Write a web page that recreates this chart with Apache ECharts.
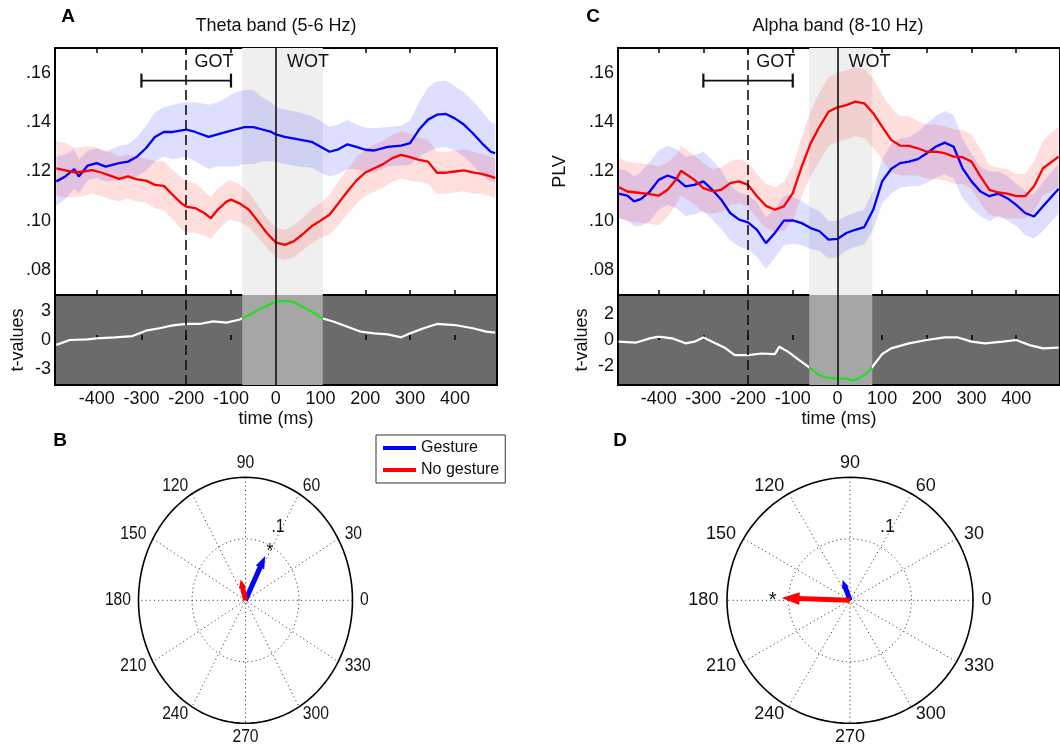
<!DOCTYPE html>
<html>
<head>
<meta charset="utf-8">
<script src="https://cdn.jsdelivr.net/npm/echarts@6/dist/echarts.min.js"></script>
<style>html,body{margin:0;padding:0;background:#fff}#main{width:1060px;height:748px}</style>
</head>
<body>
<div id="main"></div>
<script>
// ---------------- DATA ----------------
const timeTicks = [-400, -300, -200, -100, 0, 100, 200, 300, 400];
const plvTicks = [0.08, 0.10, 0.12, 0.14, 0.16];
const tTicksA = [-3, 0, 3];
const tTicksC = [-2, 0, 2];

// Panel A : Theta band (5-6 Hz)
const gestureTimeA = [-490,-470,-450,-440,-420,-400,-380,-350,-330,-310,-290,-270,-250,-230,-200,-180,-150,-130,-110,-90,-70,-50,-30,-10,0,20,50,80,100,120,140,160,180,200,220,250,280,300,320,340,360,380,400,420,440,460,480,490];
const gestureMeanA = [.116,.118,.121,.118,.1224,.1234,.122,.1234,.124,.126,.1294,.134,.136,.136,.137,.136,.134,.135,.136,.137,.138,.138,.137,.136,.135,.134,.133,.132,.130,.128,.129,.131,.130,.1288,.1285,.130,.1305,.1315,.137,.141,.143,.1433,.1415,.139,.1355,.1315,.128,.1274];
const gestureSemA = [.010,.009,.008,.007,.006,.006,.006,.007,.007,.008,.009,.010,.010,.011,.011,.012,.013,.013,.014,.015,.015,.015,.013,.012,.011,.011,.011,.0105,.0105,.010,.010,.010,.009,.009,.009,.008,.008,.009,.011,.013,.0135,.0135,.013,.013,.013,.013,.012,.012];
const noGestureTimeA = [-490,-470,-450,-430,-410,-390,-370,-350,-330,-310,-290,-270,-250,-230,-210,-200,-180,-160,-145,-130,-110,-100,-80,-60,-40,-20,0,20,40,60,80,100,120,140,160,180,200,220,240,260,280,300,320,340,360,380,400,420,440,460,480,490];
const noGestureMeanA = [.1213,.1205,.1196,.120,.1206,.1196,.1183,.117,.118,.1168,.1163,.1146,.1142,.1105,.107,.1058,.1052,.1032,.1011,.1045,.1078,.1086,.107,.1045,.0999,.0951,.0913,.0903,.0917,.0946,.0978,.1001,.1025,.1072,.1119,.1163,.1196,.1213,.123,.1254,.1267,.1258,.1247,.124,.1195,.1195,.12,.1205,.1196,.119,.118,.1173];
const noGestureSemA = [.011,.011,.010,.010,.0095,.0095,.0095,.009,.009,.009,.009,.0095,.010,.010,.0105,.0105,.010,.009,.0085,.0085,.008,.008,.0075,.007,.0065,.006,.006,.006,.0065,.0065,.007,.007,.008,.009,.009,.0095,.0095,.0095,.0095,.0095,.0095,.0095,.009,.009,.0085,.0085,.0085,.0085,.0085,.008,.008,.008];
const tTimeA = [-490,-460,-420,-400,-360,-320,-290,-260,-230,-200,-170,-140,-110,-80,-60,-40,-20,0,20,40,60,80,105,130,160,190,220,250,280,300,330,360,400,440,470,490];
const tValuesA = [-0.5,0,0.07,0.17,0.27,0.4,0.95,1.2,1.5,1.64,1.64,1.9,1.77,2.1,2.56,3.07,3.5,3.9,4.0,3.9,3.4,2.9,2.2,1.87,1.36,0.85,0.68,0.58,0.27,0.68,1.2,1.64,1.53,1.2,0.85,0.75];
const windowA = [-75, 105];

// Panel C : Alpha band (8-10 Hz)
const gestureTimeC = [-490,-470,-455,-440,-420,-400,-380,-360,-340,-320,-300,-280,-260,-240,-220,-200,-180,-160,-140,-120,-100,-80,-60,-40,-20,0,20,40,60,80,100,120,140,160,180,200,220,240,260,280,300,320,340,360,380,400,420,440,460,480,495];
const gestureMeanC = [.111,.1102,.1079,.1088,.1119,.1166,.1184,.117,.114,.1146,.116,.1126,.1086,.1032,.1005,.0994,.0964,.091,.0951,.1001,.1002,.0991,.0971,.0958,.0924,.0927,.0951,.0964,.0975,.1045,.116,.121,.1234,.124,.125,.1274,.130,.1317,.130,.1213,.116,.1119,.110,.111,.1092,.1065,.1032,.1018,.1059,.110,.113];
const gestureSemC = [.010,.010,.010,.011,.012,.012,.012,.012,.012,.012,.012,.012,.012,.011,.011,.011,.011,.0105,.010,.010,.0095,.009,.0085,.008,.0075,.0074,.007,.007,.007,.008,.009,.010,.010,.010,.011,.012,.0125,.0128,.0128,.012,.011,.010,.010,.009,.009,.0085,.009,.009,.010,.010,.010];
const noGestureTimeC = [-490,-470,-450,-420,-400,-380,-360,-350,-320,-300,-280,-260,-240,-220,-200,-180,-160,-140,-120,-100,-80,-60,-40,-20,0,20,40,60,80,100,120,140,160,180,200,220,240,260,280,300,320,340,360,380,400,420,440,460,480,495];
const noGestureMeanC = [.1137,.1119,.1115,.1108,.1102,.1126,.117,.1203,.1166,.1133,.112,.1126,.1153,.116,.1146,.110,.1061,.1045,.1059,.1112,.122,.1314,.1382,.1442,.146,.1469,.1483,.1476,.1436,.1382,.1328,.1305,.1304,.1294,.128,.128,.1274,.126,.1258,.124,.118,.1126,.1115,.111,.110,.110,.114,.1213,.124,.126];
const noGestureSemC = [.012,.012,.012,.012,.012,.011,.010,.010,.010,.010,.009,.009,.009,.009,.009,.009,.009,.009,.010,.011,.012,.013,.014,.014,.014,.014,.014,.014,.014,.013,.013,.012,.012,.011,.011,.011,.011,.011,.011,.011,.011,.010,.010,.010,.009,.009,.010,.011,.012,.012];
const tTimeC = [-490,-450,-420,-400,-370,-340,-320,-300,-280,-250,-230,-200,-170,-140,-130,-110,-90,-70,-60,-40,-20,0,20,35,50,65,78,100,120,160,200,240,270,300,330,370,400,430,460,495];
const tValuesC = [-0.13,-0.2,0.13,0.26,0.13,-0.26,-0.13,0.2,-0.13,-0.65,-1.18,-1.18,-1.05,-1.1,-0.52,-0.92,-1.44,-1.96,-2.22,-2.75,-2.95,-3.0,-3.0,-3.14,-2.95,-2.6,-2.1,-1.1,-0.65,-0.26,0,0.2,0.2,-0.13,-0.26,-0.13,0,-0.4,-0.65,-0.6];
const windowC = [-63, 78];

// event annotations (time in ms, PLV level)
const gotBarTimes = [-300, -100];
const gotBarLevel = 0.1568;
const gotLineTime = -200;
const wordOnsetTime = 0;
const eventLabels = ['GOT', 'WOT'];
const eventLabelTimes = [-138, 72];
const eventLabelLevel = 0.1645;

// Polar panels (angle in degrees, magnitude in PLV units)
const angleTicks = [0, 30, 60, 90, 120, 150, 180, 210, 240, 270, 300, 330];
const ringValues = [0.1, 0.2];
const ringLabel = ['.1', 63, 0.134];
const gestureVecB = [63, 0.081];
const noGestureVecB = [105, 0.035];
const starB = [62, 0.097];
const gestureVecD = [110, 0.035];
const noGestureVecD = [178, 0.111];
const starD = [177, 0.126];

// ---------------- HELPERS ----------------
const FONT = '"Liberation Sans", Arial, Helvetica, sans-serif';
const INK = '#111';
const BLUE = '#0000ff', RED = '#ff0000', GREEN = '#22dd22';
const zip = (t, v) => t.map((x, i) => [x, v[i]]);
const fmtPLV = v => v.toFixed(2).replace(/^0/, '');

function xAx(grid, min, max, pos, labels, name) {
  return {
    type: 'value', gridIndex: grid, min, max, position: pos,
    axisLine: { show: false }, splitLine: { show: false },
    axisTick: { show: true, inside: true, length: 5, customValues: timeTicks, lineStyle: { color: '#000', width: 1.5 } },
    axisLabel: { show: labels, customValues: timeTicks, margin: 5, fontSize: 18, color: INK, fontFamily: FONT },
    name: name || '', nameLocation: 'middle', nameGap: 25,
    nameTextStyle: { fontSize: 18, color: INK, fontFamily: FONT }
  };
}
function yAx(grid, min, max, pos, ticks, labels, fmt, name, gap) {
  return {
    type: 'value', gridIndex: grid, min, max, position: pos,
    axisLine: { show: false }, splitLine: { show: false },
    axisTick: { show: true, inside: true, length: 5, customValues: ticks, lineStyle: { color: '#000', width: 1.5 } },
    axisLabel: { show: labels, customValues: ticks, margin: 4, fontSize: 18, color: INK, fontFamily: FONT, formatter: fmt },
    name: name || '', nameLocation: 'middle', nameGap: gap || 30,
    nameTextStyle: { fontSize: 18, color: INK, fontFamily: FONT }
  };
}

const series = [];
const visualMaps = [];

function markers(bandColor, win) {
  return {
    markArea: { silent: true, itemStyle: { color: bandColor }, data: [[{ xAxis: win[0] }, { xAxis: win[1] }]] },
    markLine: {
      silent: true, symbol: ['none', 'none'], label: { show: false },
      data: [
        { xAxis: gotLineTime, lineStyle: { type: [10, 5], width: 1.6, color: '#111' } },
        { xAxis: wordOnsetTime, lineStyle: { type: 'solid', width: 1.6, color: '#111' } }
      ]
    }
  };
}

function bandSeries(xi, yi, t, m, s, color) {
  series.push({
    type: 'custom', xAxisIndex: xi, yAxisIndex: yi, silent: true, clip: true, z: 2,
    data: [[t[0], m[0]]],
    renderItem: (p, api) => {
      const up = t.map((x, i) => api.coord([x, m[i] + s[i]]));
      const lo = t.map((x, i) => api.coord([x, m[i] - s[i]])).reverse();
      return { type: 'polygon', shape: { points: up.concat(lo) }, style: { fill: color } };
    }
  });
}

function linePanel(xUp, yUp, xLow, yLow, d) {
  bandSeries(xUp, yUp, d.gT, d.gM, d.gS, 'rgba(0,0,255,0.13)');
  bandSeries(xUp, yUp, d.nT, d.nM, d.nS, 'rgba(255,0,0,0.13)');
  series.push(Object.assign({ name: 'Gesture', type: 'line', xAxisIndex: xUp, yAxisIndex: yUp, data: zip(d.gT, d.gM), z: 3,
    symbol: 'none', itemStyle: { color: BLUE }, lineStyle: { color: BLUE, width: 2.3 } }, markers('#efefef', d.win)));
  series.push({ name: 'No gesture', type: 'line', xAxisIndex: xUp, yAxisIndex: yUp, data: zip(d.nT, d.nM), z: 3,
    symbol: 'none', itemStyle: { color: RED }, lineStyle: { color: RED, width: 2.3 } });
  // GOT range bar
  series.push({
    type: 'custom', xAxisIndex: xUp, yAxisIndex: yUp, silent: true, z: 6,
    data: [[gotBarTimes[0], gotBarTimes[1], gotBarLevel]],
    renderItem: (p, api) => {
      const a = api.coord([api.value(0), api.value(2)]);
      const b = api.coord([api.value(1), api.value(2)]);
      return { type: 'group', children: [
        { type: 'line', shape: { x1: a[0], y1: a[1], x2: b[0], y2: b[1] }, style: { stroke: '#111', lineWidth: 1.6 } },
        { type: 'line', shape: { x1: a[0], y1: a[1] - 7, x2: a[0], y2: a[1] + 7 }, style: { stroke: '#111', lineWidth: 2.2 } },
        { type: 'line', shape: { x1: b[0], y1: b[1] - 7, x2: b[0], y2: b[1] + 7 }, style: { stroke: '#111', lineWidth: 2.2 } }
      ] };
    }
  });
  // GOT / WOT text
  series.push({
    type: 'custom', xAxisIndex: xUp, yAxisIndex: yUp, silent: true, z: 6,
    data: eventLabelTimes.map(t => [t, eventLabelLevel]),
    renderItem: (p, api) => {
      const c = api.coord([api.value(0), api.value(1)]);
      return { type: 'text', x: c[0], y: c[1], style: { text: eventLabels[p.dataIndex], font: '18px ' + FONT, fill: INK, align: 'center', verticalAlign: 'middle' } };
    }
  });
  // t-values
  series.push(Object.assign({
    name: 't' + d.id, type: 'line', xAxisIndex: xLow, yAxisIndex: yLow, data: zip(d.tT, d.tV),
    symbol: 'none', lineStyle: { width: 2.2 }
  }, markers('#a6a6a6', d.win)));
  visualMaps.push({ type: 'piecewise', show: false, seriesIndex: series.length - 1, dimension: 0,
    pieces: [{ gte: d.win[0], lte: d.win[1], color: GREEN }], outOfRange: { color: '#ffffff' } });
}

linePanel(0, 0, 2, 2, { id: 'A', gT: gestureTimeA, gM: gestureMeanA, gS: gestureSemA, nT: noGestureTimeA, nM: noGestureMeanA, nS: noGestureSemA, tT: tTimeA, tV: tValuesA, win: windowA });
linePanel(3, 3, 5, 5, { id: 'C', gT: gestureTimeC, gM: gestureMeanC, gS: gestureSemC, nT: noGestureTimeC, nM: noGestureMeanC, nS: noGestureSemC, tT: tTimeC, tV: tValuesC, win: windowC });

// ---------- polar panels on cartesian grids ----------
const rad = a => a * Math.PI / 180;
function frameRender(textScale) {
  return (p, api) => {
    const R = ringValues[ringValues.length - 1];
    const ring = r => { const pts = []; for (let a = 0; a <= 360; a += 3) pts.push(api.coord([r * Math.cos(rad(a)), r * Math.sin(rad(a))])); return pts; };
    const ch = [];
    ringValues.slice(0, -1).forEach(r => ch.push({ type: 'polyline', shape: { points: ring(r) }, style: { stroke: '#444', lineWidth: 1, lineDash: [1.2, 3], fill: null } }));
    angleTicks.filter(a => a < 180).forEach(a => {
      const p1 = api.coord([R * Math.cos(rad(a)), R * Math.sin(rad(a))]);
      const p2 = api.coord([-R * Math.cos(rad(a)), -R * Math.sin(rad(a))]);
      ch.push({ type: 'line', shape: { x1: p1[0], y1: p1[1], x2: p2[0], y2: p2[1] }, style: { stroke: '#444', lineWidth: 1, lineDash: [1.2, 3] } });
    });
    ch.push({ type: 'polyline', shape: { points: ring(R) }, style: { stroke: '#000', lineWidth: 1.6, fill: null } });
    angleTicks.forEach(a => {
      const c = Math.cos(rad(a)), s = Math.sin(rad(a));
      const k = Math.abs(s) > 0.9 ? 1.04 : 1.07;
      const pt = api.coord([k * R * c, k * R * s]);
      ch.push({ type: 'text', x: pt[0], y: pt[1], scaleX: textScale, style: {
        text: String(a), font: '18px ' + FONT, fill: INK,
        align: c > 0.1 ? 'left' : (c < -0.1 ? 'right' : 'center'),
        verticalAlign: s > 0.9 ? 'bottom' : (s < -0.9 ? 'top' : 'middle') } });
    });
    const lp = api.coord([ringLabel[2] * Math.cos(rad(ringLabel[1])), ringLabel[2] * Math.sin(rad(ringLabel[1]))]);
    ch.push({ type: 'text', x: lp[0], y: lp[1], scaleX: textScale, style: { text: ringLabel[0], font: '18px ' + FONT, fill: INK, align: 'center', verticalAlign: 'middle' } });
    return { type: 'group', children: ch };
  };
}
function arrowRender(p, api) {
  const a = rad(api.value(0)), m = api.value(1);
  const o = api.coord([0, 0]);
  const tip = api.coord([m * Math.cos(a), m * Math.sin(a)]);
  const dx = tip[0] - o[0], dy = tip[1] - o[1];
  const L = Math.hypot(dx, dy), ux = dx / L, uy = dy / L;
  const hl = Math.max(8, 0.26 * L), hw = Math.max(3.5, 0.36 * hl);
  const bx = tip[0] - ux * hl, by = tip[1] - uy * hl;
  const color = api.visual('color');
  return { type: 'group', children: [
    { type: 'line', shape: { x1: o[0], y1: o[1], x2: bx + ux * 2, y2: by + uy * 2 }, style: { stroke: color, lineWidth: 5 } },
    { type: 'polygon', shape: { points: [tip, [bx - uy * hw, by + ux * hw], [bx + uy * hw, by - ux * hw]] }, style: { fill: color } }
  ] };
}
function starRender(textScale) {
  return (p, api) => {
    const a = rad(api.value(0)), r = api.value(1);
    const c = api.coord([r * Math.cos(a), r * Math.sin(a)]);
    return { type: 'text', x: c[0], y: c[1] + 4, scaleX: textScale, style: { text: '*', font: '20px ' + FONT, fill: INK, align: 'center', verticalAlign: 'middle' } };
  };
}
function polarPanel(xi, yi, textScale, gVec, nVec, star) {
  series.push({ type: 'custom', xAxisIndex: xi, yAxisIndex: yi, silent: true, data: [[0, 0]], renderItem: frameRender(textScale) });
  series.push({ name: 'Gesture', type: 'custom', xAxisIndex: xi, yAxisIndex: yi, itemStyle: { color: BLUE }, data: [gVec], renderItem: arrowRender, z: 4 });
  series.push({ name: 'No gesture', type: 'custom', xAxisIndex: xi, yAxisIndex: yi, itemStyle: { color: RED }, data: [nVec], renderItem: arrowRender, z: 4 });
  series.push({ type: 'custom', xAxisIndex: xi, yAxisIndex: yi, silent: true, data: [star], renderItem: starRender(textScale), z: 5 });
}
polarPanel(6, 6, 107 / 123, gestureVecB, noGestureVecB, starB);
polarPanel(7, 7, 1, gestureVecD, noGestureVecD, starD);

const xAxes = [
  xAx(0, -493, 494, 'bottom', false),
  xAx(0, -493, 494, 'top', false),
  xAx(1, -493, 494, 'bottom', true, 'time (ms)'),
  xAx(2, -491, 498, 'bottom', false),
  xAx(2, -491, 498, 'top', false),
  xAx(3, -491, 498, 'bottom', true, 'time (ms)'),
  { type: 'value', gridIndex: 4, min: -0.2, max: 0.2, show: false },
  { type: 'value', gridIndex: 5, min: -0.2, max: 0.2, show: false }
];
const yAxes = [
  yAx(0, 0.07, 0.17, 'left', plvTicks, true, fmtPLV),
  yAx(0, 0.07, 0.17, 'right', plvTicks, false),
  yAx(1, -4.6, 4.6, 'left', tTicksA, true, v => String(v), 't-values', 28),
  yAx(2, 0.07, 0.17, 'left', plvTicks, true, fmtPLV, 'PLV', 49),
  yAx(2, 0.07, 0.17, 'right', plvTicks, false),
  yAx(3, -3.5, 3.5, 'left', tTicksC, true, v => String(v), 't-values', 27),
  { type: 'value', gridIndex: 4, min: -0.2, max: 0.2, show: false },
  { type: 'value', gridIndex: 5, min: -0.2, max: 0.2, show: false }
];

const frame = { show: true, borderColor: '#000', borderWidth: 2 };
const option = {
  animation: false,
  textStyle: { fontFamily: FONT },
  grid: [
    Object.assign({ left: 55, top: 48, width: 442, height: 247, backgroundColor: '#fff' }, frame),
    Object.assign({ left: 55, top: 295, width: 442, height: 90, backgroundColor: '#6b6b6b' }, frame),
    Object.assign({ left: 618, top: 48, width: 445, height: 247, backgroundColor: '#fff' }, frame),
    Object.assign({ left: 618, top: 295, width: 445, height: 90, backgroundColor: '#6b6b6b' }, frame),
    { left: 138.5, top: 477.3, width: 214, height: 246, show: false },
    { left: 727, top: 477.3, width: 246, height: 246, show: false }
  ],
  xAxis: xAxes,
  yAxis: yAxes,
  visualMap: visualMaps,
  legend: {
    data: ['Gesture', 'No gesture'], orient: 'vertical', left: 376, top: 435,
    icon: 'rect', itemWidth: 33, itemHeight: 4, itemGap: 2, padding: [3, 6, 3, 7],
    borderColor: '#333', borderWidth: 1, backgroundColor: '#fff', selectedMode: false,
    textStyle: { fontSize: 16, lineHeight: 20, color: INK, fontFamily: FONT }
  },
  graphic: [
    { type: 'text', x: 276, y: 26, style: { text: 'Theta band (5-6 Hz)', font: '18px ' + FONT, fill: INK, align: 'center', verticalAlign: 'middle' } },
    { type: 'text', x: 838, y: 26, style: { text: 'Alpha band (8-10 Hz)', font: '18px ' + FONT, fill: INK, align: 'center', verticalAlign: 'middle' } },
    { type: 'text', x: 68, y: 17, style: { text: 'A', font: 'bold 19px ' + FONT, fill: '#000', align: 'center', verticalAlign: 'middle' } },
    { type: 'text', x: 593, y: 17, style: { text: 'C', font: 'bold 19px ' + FONT, fill: '#000', align: 'center', verticalAlign: 'middle' } },
    { type: 'text', x: 60, y: 441, style: { text: 'B', font: 'bold 19px ' + FONT, fill: '#000', align: 'center', verticalAlign: 'middle' } },
    { type: 'text', x: 620, y: 441, style: { text: 'D', font: 'bold 19px ' + FONT, fill: '#000', align: 'center', verticalAlign: 'middle' } }
  ],
  series
};
echarts.init(document.getElementById('main')).setOption(option);
</script>
</body>
</html>
